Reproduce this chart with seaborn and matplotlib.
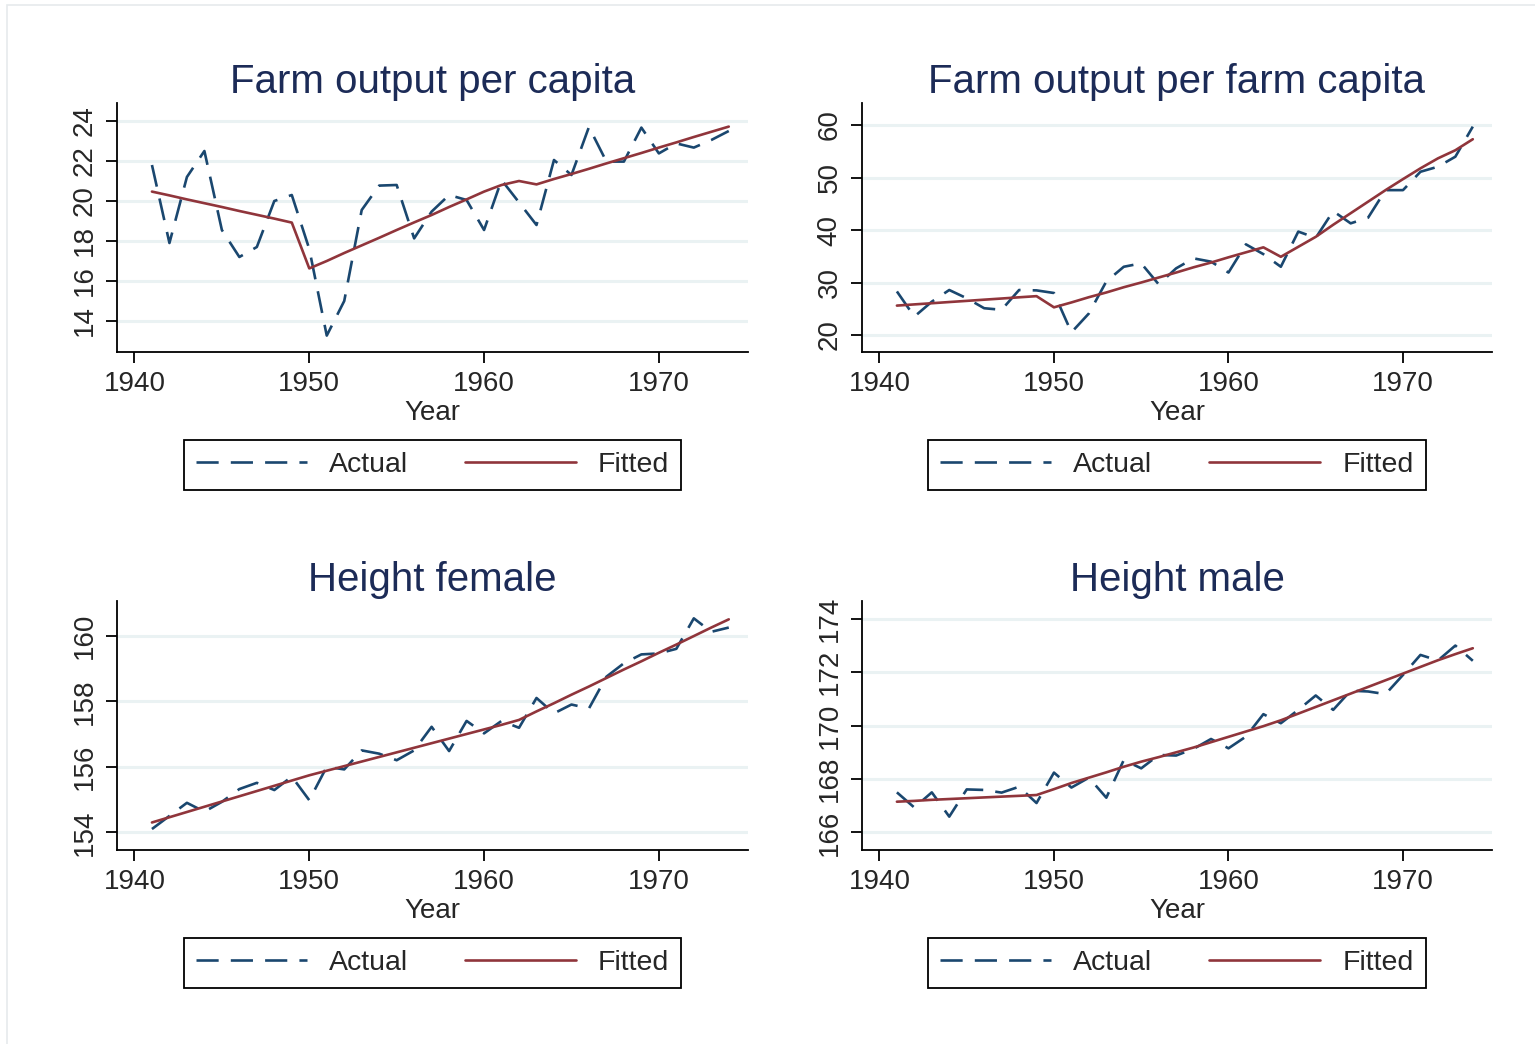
import numpy as np
import pandas as pd
import matplotlib
matplotlib.use("Agg")
import matplotlib.pyplot as plt
import seaborn as sns
from matplotlib.patches import Rectangle

years = list(range(1941, 1975))

farm_pc_actual = [21.8, 17.9, 21.2, 22.5, 18.55, 17.2, 17.7, 20.0, 20.3, 17.6,
                  13.27, 15.0, 19.55, 20.77, 20.8, 18.13, 19.47, 20.3, 20.05, 18.55,
                  21.05, 19.93, 18.8, 22.05, 21.3, 23.7, 21.97, 21.97, 23.67, 22.38,
                  22.88, 22.67, 23.05, 23.5]
farm_pc_fitted = [20.47, 20.28, 20.08, 19.89, 19.70, 19.50, 19.31, 19.12, 18.92, 16.63,
                  17.0, 17.4, 17.78, 18.16, 18.55, 18.93, 19.3, 19.7, 20.08, 20.47,
                  20.8, 21.0, 20.83, 21.1, 21.35, 21.61, 21.88, 22.14, 22.4, 22.67,
                  22.93, 23.2, 23.46, 23.72]

farm_pfc_actual = [28.3, 23.5, 26.35, 28.57, 27.0, 25.1, 24.8, 28.57, 28.5, 28.0,
                   20.5, 24.1, 30.2, 33.0, 33.65, 29.65, 32.7, 34.6, 33.97, 31.9,
                   37.27, 35.4, 33.0, 39.7, 38.5, 43.6, 41.27, 42.35, 47.6, 47.6,
                   51.1, 52.06, 53.97, 59.7]
farm_pfc_fitted = [25.6, 25.83, 26.05, 26.28, 26.5, 26.73, 26.95, 27.18, 27.4, 25.27,
                   26.2, 27.2, 28.1, 29.1, 30.0, 30.95, 31.9, 32.9, 33.8, 34.8,
                   35.75, 36.7, 34.9, 36.8, 38.7, 41.0, 43.2, 45.4, 47.6, 49.7,
                   51.75, 53.65, 55.2, 57.3]

hf_actual = [154.1, 154.5, 154.9, 154.63, 154.93, 155.32, 155.51, 155.29, 155.7, 154.98,
             156.0, 155.92, 156.5, 156.4, 156.2, 156.5, 157.22, 156.48, 157.4, 157.02,
             157.4, 157.19, 158.1, 157.63, 157.9, 157.78, 158.75, 159.16, 159.43, 159.46,
             159.6, 160.53, 160.12, 160.25]
hf_fitted = [154.3, 154.46, 154.62, 154.78, 154.94, 155.1, 155.26, 155.42, 155.58, 155.74,
             155.88, 156.02, 156.16, 156.3, 156.44, 156.58, 156.72, 156.86, 157.0, 157.14,
             157.28, 157.43, 157.69, 157.94, 158.2, 158.45, 158.71, 158.97, 159.22, 159.48,
             159.73, 159.99, 160.25, 160.5]

hm_actual = [167.5, 166.93, 167.5, 166.59, 167.61, 167.59, 167.49, 167.71, 167.1, 168.24,
             167.68, 168.05, 167.3, 168.71, 168.4, 168.9, 168.88, 169.13, 169.5, 169.15,
             169.59, 170.43, 170.09, 170.59, 171.13, 170.59, 171.31, 171.28, 171.18, 171.9,
             172.65, 172.44, 173.0, 172.43]
hm_fitted = [167.15, 167.18, 167.22, 167.25, 167.28, 167.31, 167.34, 167.37, 167.4, 167.62,
             167.85, 168.05, 168.25, 168.46, 168.65, 168.82, 169.0, 169.18, 169.38, 169.58,
             169.78, 169.98, 170.2, 170.45, 170.7, 170.95, 171.2, 171.45, 171.7, 171.95,
             172.2, 172.45, 172.68, 172.9]

titles = ["Farm output per capita", "Farm output per farm capita", "Height female", "Height male"]
x_ticks = [1940, 1950, 1960, 1970]
y_ticks = [[14, 16, 18, 20, 22, 24], [20, 30, 40, 50, 60],
           [154, 156, 158, 160], [166, 168, 170, 172, 174]]
y_lims = [(12.45, 24.9), (16.76, 64.2), (153.46, 161.06), (165.34, 174.67)]
series = [(farm_pc_actual, farm_pc_fitted), (farm_pfc_actual, farm_pfc_fitted),
          (hf_actual, hf_fitted), (hm_actual, hm_fitted)]

sns.set_theme(style="white")
plt.rcParams['font.family'] = ['Liberation Sans', 'DejaVu Sans']

ACTUAL_C = "#1a476f"
FITTED_C = "#90353b"
TITLE_C = "#1c2b57"
GRID_C = "#eaf2f3"

fig = plt.figure(figsize=(15.35, 10.44), dpi=100)
fig.patch.set_facecolor("white")
fig.patches.append(Rectangle((7 / 1535, -0.1), 1.2, 1.1 - 5 / 1044, transform=fig.transFigure,
                             fill=False, edgecolor="#e6eaec", linewidth=1.2, zorder=0))

W, H = 1535, 1044
positions = [(117, 103, 748, 352), (862, 103, 1492, 352),
             (117, 601, 748, 850), (862, 601, 1492, 850)]

for i, (l, t, r, b) in enumerate(positions):
    ax = fig.add_axes([l / W, 1 - b / H, (r - l) / W, (b - t) / H])
    act, fit = series[i]
    df = pd.DataFrame({"Year": years, "Actual": act, "Fitted": fit})
    sns.lineplot(data=df, x="Year", y="Actual", ax=ax, color=ACTUAL_C, linewidth=1.9,
                 dashes=False, label="Actual")
    ax.lines[-1].set_dashes((8.4, 4.6))
    sns.lineplot(data=df, x="Year", y="Fitted", ax=ax, color=FITTED_C, linewidth=1.9,
                 label="Fitted")
    ax.set_xlim(1939, 1975.1)
    ax.set_ylim(*y_lims[i])
    ax.set_xticks(x_ticks)
    ax.set_yticks(y_ticks[i])
    ax.set_yticklabels([str(v) for v in y_ticks[i]], rotation=90, va="center")
    for v in y_ticks[i]:
        ax.axhline(v, color=GRID_C, linewidth=2.2, zorder=0)
    ax.tick_params(axis="both", which="major", direction="out", length=8, width=1.3,
                   color="black", labelsize=20, pad=6, left=True, bottom=True)
    for s in ["top", "right"]:
        ax.spines[s].set_visible(False)
    for s in ["left", "bottom"]:
        ax.spines[s].set_color("black")
        ax.spines[s].set_linewidth(1.3)
    ax.set_xlabel("Year", fontsize=20, labelpad=2)
    ax.set_ylabel("")
    ax.set_title(titles[i], fontsize=29, color=TITLE_C, pad=7)
    leg = ax.legend(loc="upper center", bbox_to_anchor=(0.5, -0.353), ncol=2,
                    fontsize=20.5, frameon=True, fancybox=False, framealpha=1,
                    edgecolor="black", handlelength=3.9, handletextpad=0.77,
                    columnspacing=2.0, borderpad=0.42, borderaxespad=0)
    leg.get_frame().set_linewidth(1.3)

fig.savefig("out.png", dpi=100, facecolor="white")
